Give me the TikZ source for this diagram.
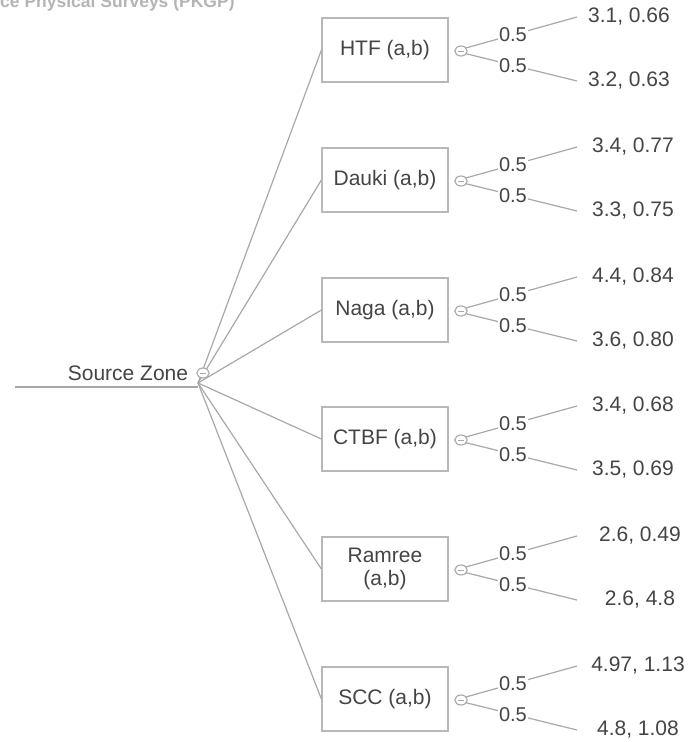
\documentclass[tikz,border=0pt]{standalone}
\usepackage{fontspec}
\setmainfont{Liberation Sans}
\usetikzlibrary{shapes.geometric}
\definecolor{txtgray}{HTML}{444444}
\definecolor{linegray}{HTML}{A8A8A8}
\definecolor{boxgray}{HTML}{B8B8B8}
\definecolor{hdrgray}{HTML}{B4B4B4}
\begin{document}
\begin{tikzpicture}[x=1pt,y=-1pt,
  conn/.style={draw=linegray, line width=1.2pt},
  box/.style={draw=boxgray, line width=1.2pt, minimum width=126pt, minimum height=64pt,
    align=center, text=txtgray, font=\fontsize{21}{23}\selectfont, inner sep=0pt},
  chance/.style={ellipse, draw=linegray, line width=1.1pt, fill=white,
    minimum width=12.5pt, minimum height=10pt, inner sep=0pt},
  prob/.style={fill=white, text=txtgray, font=\fontsize{20}{22}\selectfont, inner sep=1pt},
  val/.style={text=txtgray, font=\fontsize{21}{23}\selectfont, inner sep=0pt},
  hdr/.style={text=hdrgray, font=\bfseries\fontsize{17.5}{19}\selectfont, inner sep=0pt}]
\useasboundingbox (0,0) rectangle (691,742);

% partly cut heading at the top edge
\begin{scope}
  \clip (0,0) rectangle (691,742);
  \node[hdr, anchor=base west] (heading) at (0,7) {ce Physical Surveys (PKGP)};
\end{scope}

% root branch
\coordinate (root) at (15,387);
\coordinate (rootend) at (198,387);
\coordinate (src) at (198,383);
\draw[conn] (root) -- (rootend);
\node[val] (srclabel) at (128,373) {Source Zone};

% decision branches with their chance nodes
\foreach \nm/\lab/\cy/\va/\vb/\vx in {
  htf/{HTF (a,b)}/50/{3.1, 0.66}/{3.2, 0.63}/629,
  dauki/{Dauki (a,b)}/180/{3.4, 0.77}/{3.3, 0.75}/633,
  naga/{Naga (a,b)}/310/{4.4, 0.84}/{3.6, 0.80}/633,
  ctbf/{CTBF (a,b)}/439/{3.4, 0.68}/{3.5, 0.69}/633,
  ramree/{Ramree\\(a,b)}/569/{2.6, 0.49}/{2.6, 4.8}/640,
  scc/{SCC (a,b)}/699/{4.97, 1.13}/{4.8, 1.08}/638}
{
  \node[box] (\nm) at (385,\cy) {\lab};
  \draw[conn] (src) -- (\nm.west);
  \coordinate (\nm-c) at (455,\cy+1);
  \coordinate (\nm-hi) at (577,\cy-33);
  \coordinate (\nm-lo) at (577,\cy+31);
  \draw[conn] (\nm-c) -- node[prob, pos=0.475] (\nm-p1) {0.5} (\nm-hi);
  \draw[conn] (\nm-c) -- node[prob, pos=0.475] (\nm-p2) {0.5} (\nm-lo);
  \node[chance] (\nm-n) at (461,\cy+1) {};
  \draw[draw=linegray, line width=1pt] ([xshift=-3pt]\nm-n.center) -- ([xshift=3pt]\nm-n.center);
  \node[val] (\nm-a) at (\vx,\cy-33) {\va};
  \node[val] (\nm-b) at (\vx,\cy+31) {\vb};
}

% source node symbol
\node[chance] (srcnode) at (203,373) {};
\draw[draw=linegray, line width=1pt] ([xshift=-3pt]srcnode.center) -- ([xshift=3pt]srcnode.center);
\end{tikzpicture}
\end{document}
